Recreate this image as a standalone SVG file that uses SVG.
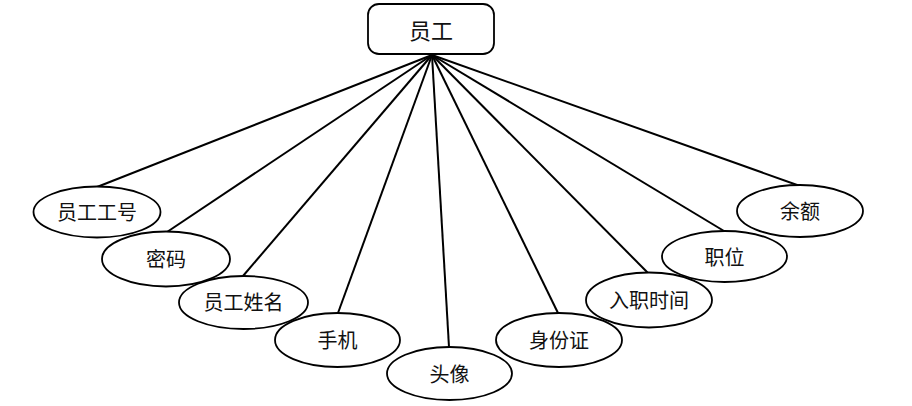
<svg xmlns="http://www.w3.org/2000/svg" width="912" height="406" viewBox="0 0 912 406">
<style>
.n{fill:#fff;stroke:#000;stroke-width:1.8}
.t{font-family:"Noto Sans CJK SC","Noto Sans",sans-serif;font-size:20px;fill:#111;text-anchor:middle;dominant-baseline:central}
.e line{stroke:#000;stroke-width:2}
</style>
<rect width="912" height="406" fill="#fff"/>
<g class="e" id="connectors">
<line x1="432" y1="55" x2="97" y2="187"/>
<line x1="432" y1="55" x2="167" y2="232"/>
<line x1="432" y1="55" x2="243" y2="276"/>
<line x1="432" y1="55" x2="338" y2="313"/>
<line x1="432" y1="55" x2="449" y2="347"/>
<line x1="432" y1="55" x2="558" y2="313"/>
<line x1="432" y1="55" x2="648" y2="273"/>
<line x1="432" y1="55" x2="724" y2="231"/>
<line x1="432" y1="55" x2="800" y2="186"/>
</g>
<g id="root"><rect class="n" x="368" y="4" width="126" height="50" rx="11"/><text class="t" x="431" y="29" style="font-size:22px">员工</text></g>
<g id="n1"><ellipse class="n" cx="97" cy="212" rx="63.5" ry="25.5"/><text class="t" x="97" y="211">员工工号</text></g>
<g id="n2"><ellipse class="n" cx="166" cy="259" rx="64" ry="27.5"/><text class="t" x="166" y="258">密码</text></g>
<g id="n3"><ellipse class="n" cx="243.5" cy="302.5" rx="64.5" ry="26.5"/><text class="t" x="243.5" y="301">员工姓名</text></g>
<g id="n4"><ellipse class="n" cx="337.5" cy="340" rx="62.5" ry="27"/><text class="t" x="337.5" y="339">手机</text></g>
<g id="n5"><ellipse class="n" cx="449.5" cy="373.5" rx="62.5" ry="26.5"/><text class="t" x="449.5" y="373">头像</text></g>
<g id="n6"><ellipse class="n" cx="559" cy="340" rx="63" ry="27"/><text class="t" x="559" y="339">身份证</text></g>
<g id="n7"><ellipse class="n" cx="649" cy="300" rx="63" ry="27.5"/><text class="t" x="649" y="299">入职时间</text></g>
<g id="n8"><ellipse class="n" cx="724.5" cy="256.5" rx="62.5" ry="25.5"/><text class="t" x="724.5" y="256">职位</text></g>
<g id="n9"><ellipse class="n" cx="800" cy="211" rx="63" ry="26"/><text class="t" x="800" y="210">余额</text></g>
</svg>
